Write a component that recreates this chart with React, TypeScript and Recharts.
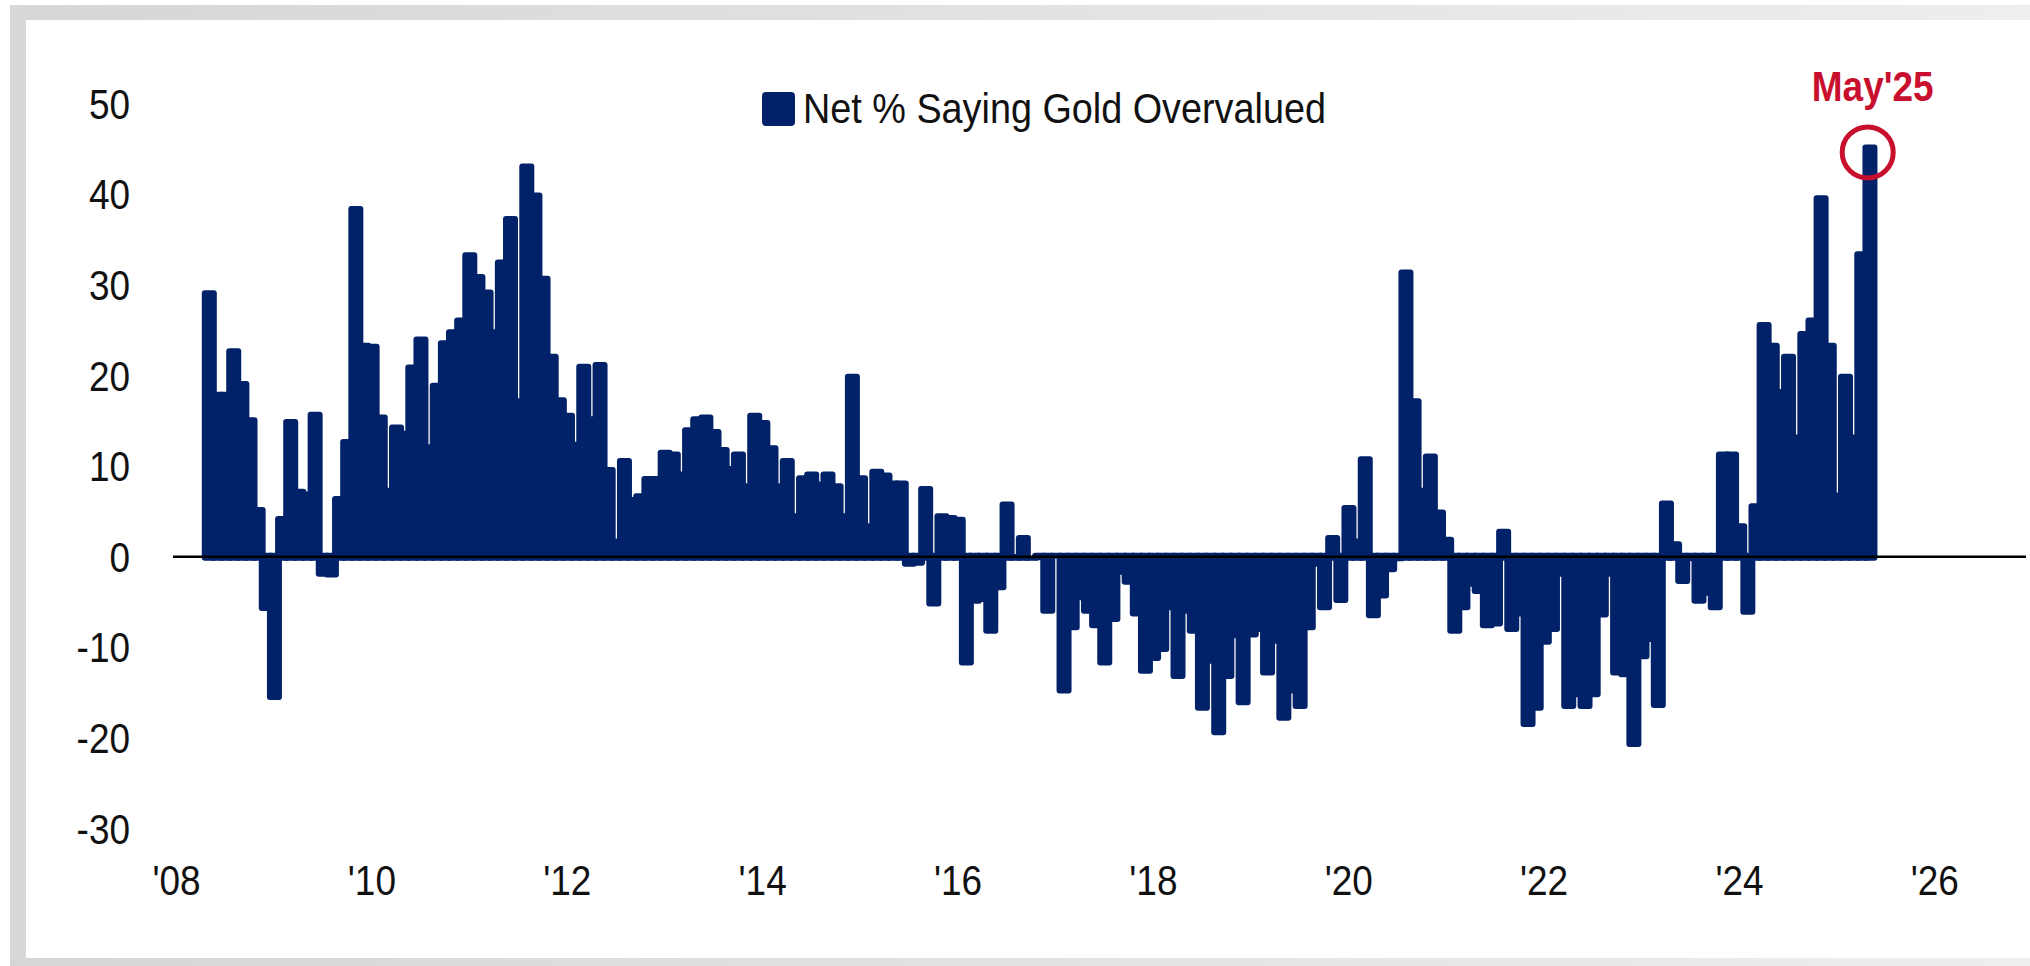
import { BarChart, Bar, XAxis, YAxis, ReferenceLine, ReferenceDot } from "recharts";

// Net % of fund managers saying gold is overvalued, monthly
const firstMonth2008 = 4; // series starts in May 2008
const y2008 = [29.4, 18.2, 18.2, 23.0, 19.4, 15.4, 5.5, -6.0];
const y2009 = [-15.8, 4.5, 15.2, 7.5, 7.2, 16.0, -2.2, -2.3, 6.7, 13.0, 38.7, 23.6];
const y2010 = [23.5, 15.7, 7.6, 14.6, 13.9, 21.2, 24.3, 12.4, 19.2, 23.9, 25.1, 26.4];
const y2011 = [33.6, 31.2, 29.5, 25.1, 32.8, 37.6, 17.5, 43.4, 40.2, 31.0, 22.4, 17.6];
const y2012 = [15.9, 12.7, 21.3, 15.5, 21.5, 9.9, 2.0, 10.9, 6.6, 7.0, 8.9, 8.9];
const y2013 = [11.8, 11.6, 9.4, 14.3, 15.5, 15.7, 14.1, 12.1, 10.0, 11.6, 8.1, 15.9];
const y2014 = [15.1, 12.3, 8.1, 10.9, 4.8, 9.0, 9.4, 8.3, 9.4, 8.1, 4.8, 20.2];
const y2015 = [9.0, 3.7, 9.7, 9.3, 8.4, 8.4, -1.1, -1.0, 7.8, -5.5, 4.8, 4.6];
const y2016 = [4.4, -12.0, -5.2, -5.0, -8.5, -3.7, 6.1, 0.3, 2.4, 0.0, -0.4, -6.3];
const y2017 = [-0.2, -15.1, -8.1, -4.8, -6.3, -7.9, -12.0, -7.2, -2.0, -3.1, -6.6, -12.9];
const y2018 = [-11.5, -10.5, -5.9, -13.5, -6.3, -8.5, -17.0, -11.8, -19.7, -13.5, -9.0, -16.4];
const y2019 = [-8.9, -8.3, -13.1, -9.6, -18.1, -15.1, -16.8, -8.1, -1.1, -5.9, 2.4, -5.1];
const y2020 = [5.7, 2.0, 11.1, -6.8, -4.6, -1.7, -0.5, 31.7, 17.5, 7.6, 11.4, 5.2];
const y2021 = [2.2, -8.5, -5.9, -3.3, -4.1, -7.9, -7.7, 3.1, -8.3, -6.6, -18.8, -17.0];
const y2022 = [-9.7, -8.3, -2.2, -16.8, -15.5, -16.8, -15.5, -6.7, -2.2, -13.1, -13.3, -21.0];
const y2023 = [-11.3, -9.4, -16.7, 6.2, 1.7, -3.0, -0.5, -5.2, -4.3, -5.9, 11.6, 11.6];
const y2024 = [3.7, -6.4, 5.9, 25.9, 23.6, 18.5, 22.4, 13.5, 24.9, 26.4, 39.9, 23.6];
const y2025 = [7.1, 20.2, 13.5, 33.7, 45.5];

const years = [2008, 2009, 2010, 2011, 2012, 2013, 2014, 2015, 2016, 2017, 2018, 2019, 2020, 2021, 2022, 2023, 2024, 2025];
const yearValues = [y2008, y2009, y2010, y2011, y2012, y2013, y2014, y2015, y2016, y2017, y2018, y2019, y2020, y2021, y2022, y2023, y2024, y2025];

const xTickYears = [2008, 2010, 2012, 2014, 2016, 2018, 2020, 2022, 2024, 2026];
const xTickLabels = ["'08", "'10", "'12", "'14", "'16", "'18", "'20", "'22", "'24", "'26"];
const yTicks = [-30, -20, -10, 0, 10, 20, 30, 40, 50];

const seriesName = "Net % Saying Gold Overvalued";
const calloutLabel = "May'25";

const NAVY = "#012169";
const RED = "#C8102E";
const FONT = "'Liberation Sans', Arial, Helvetica, sans-serif";
const BAR_W = 15;

// month index counted from Jan 2008
const data = yearValues.flatMap((vals, yi) =>
  vals.map((v, k) => ({
    m: (years[yi] - 2008) * 12 + (yi === 0 ? firstMonth2008 : 0) + k,
    v,
  }))
);
const last = data[data.length - 1];
const xTicks = xTickYears.map((y) => (y - 2008) * 12);

const OverlapBar = (props: any) => {
  const { x, y, width, height, payload } = props;
  if (x == null || y == null) return null;
  const cx = x + width / 2;
  let top = Math.min(y, y + height);
  let bottom = Math.max(y, y + height);
  if (payload.v >= 0) bottom += 4;
  else top -= 4;
  return <rect x={cx - BAR_W / 2} y={top} width={BAR_W} height={bottom - top} rx={3} ry={3} fill={NAVY} />;
};

const YTick = ({ x, y, payload }: any) => (
  <text
    transform={`translate(${x},${y}) scale(0.88,1)`}
    textAnchor="end"
    dy="0.36em"
    fontSize={42}
    fontFamily={FONT}
    fill="#111"
  >
    {payload.value}
  </text>
);

const XTick = ({ x, y, payload }: any) => {
  const i = xTicks.indexOf(payload.value);
  return (
    <text
      transform={`translate(${x},${y + 66}) scale(0.88,1)`}
      textAnchor="middle"
      fontSize={42}
      fontFamily={FONT}
      fill="#111"
    >
      {i >= 0 ? xTickLabels[i] : ""}
    </text>
  );
};

const Callout = ({ cx, cy }: any) => (
  <g>
    <circle cx={cx - 2} cy={cy + 8} r={25.5} fill="none" stroke={RED} strokeWidth={5} />
    <text
      transform={`translate(${cx + 3},${cy - 43}) scale(0.86,1)`}
      textAnchor="middle"
      fontSize={43}
      fontWeight="bold"
      fontFamily={FONT}
      fill={RED}
    >
      {calloutLabel}
    </text>
  </g>
);

export default function App() {
  return (
    <div style={{ position: "absolute", left: 0, top: 0, width: 2030, height: 966, background: "#fff", overflow: "hidden" }}>
      {/* grey frame */}
      <div style={{ position: "absolute", left: 10, top: 5, width: 2020, height: 15, background: "linear-gradient(to right, #d6d6d6, #eeeeee)" }} />
      <div style={{ position: "absolute", left: 10, top: 5, width: 16, height: 961, background: "#d8d8d8" }} />
      <div style={{ position: "absolute", left: 10, top: 958, width: 2020, height: 8, background: "linear-gradient(to right, #d6d6d6, #eeeeee)" }} />

      <div style={{ position: "absolute", left: 0, top: 0 }}>
        <BarChart width={2030} height={966} data={data} margin={{ top: 103.6, right: 4, bottom: 0, left: 0 }}>
          <XAxis
            dataKey="m"
            type="number"
            domain={[-0.43, 227.2]}
            ticks={xTicks}
            interval={0}
            axisLine={false}
            tickLine={false}
            tickSize={0}
            tickMargin={0}
            height={137.4}
            tick={<XTick />}
          />
          <YAxis
            domain={[-30, 50]}
            ticks={yTicks}
            interval={0}
            axisLine={false}
            tickLine={false}
            tickSize={0}
            tickMargin={43}
            width={173}
            tick={<YTick />}
          />
          <Bar dataKey="v" name={seriesName} shape={<OverlapBar />} isAnimationActive={false} />
          <ReferenceLine y={0} stroke="#000" strokeWidth={2.5} />
          <ReferenceDot x={last.m} y={last.v} r={26} shape={<Callout />} />
        </BarChart>
      </div>

      {/* legend */}
      <svg width={2030} height={160} style={{ position: "absolute", left: 0, top: 0, pointerEvents: "none" }}>
        <rect x={762} y={92} width={33} height={34} rx={4} ry={4} fill={NAVY} />
        <text transform="translate(803,122.7) scale(0.9,1)" fontSize={42} fontFamily={FONT} fill="#111">
          {seriesName}
        </text>
      </svg>
    </div>
  );
}
